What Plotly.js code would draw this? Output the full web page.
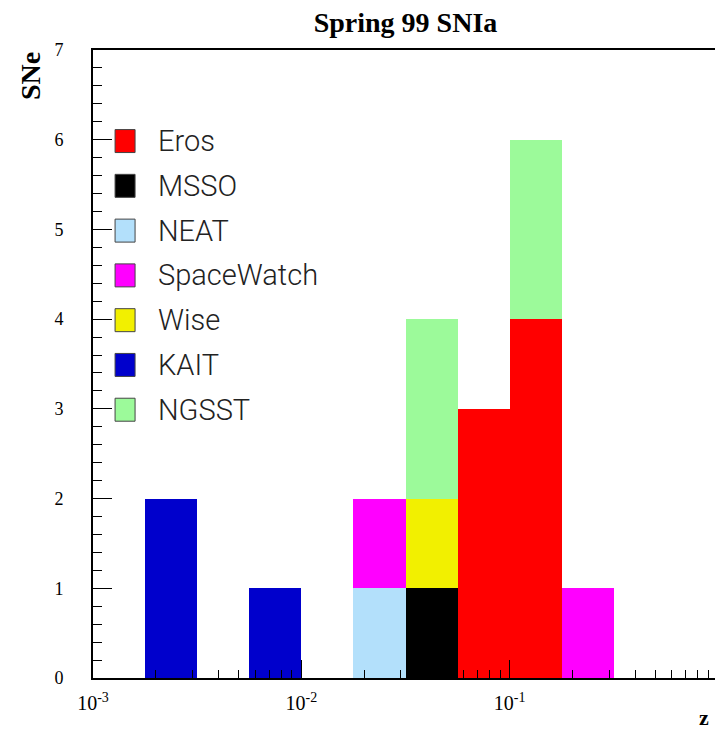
<!DOCTYPE html>
<html>
<head>
<meta charset="utf-8">
<script src="https://cdn.plot.ly/plotly-3.0.1.min.js"></script>
<style>
html,body{margin:0;padding:0;overflow:hidden;background:#fff;}
#chart{width:740px;height:731px;}
</style>
</head>
<body>
<div id="chart"></div>
<script>
// Bin lower edges, in log10(z); each bin is 0.25 decade wide
var binLowLog10 = [-2.75, -2.5, -2.25, -2.0, -1.75, -1.5, -1.25, -1.0, -0.75];
var binWidthLog10 = 0.25;

var seriesNames = ["Eros", "MSSO", "NEAT", "SpaceWatch", "Wise", "KAIT", "NGSST"];
var seriesColors = ["#ff0000", "#000000", "#b3e0fb", "#ff00ff", "#f2f000", "#0000cc", "#9cfa9a"];

var eros       = [0, 0, 0, 0, 0, 0, 3, 4, 0];
var msso       = [0, 0, 0, 0, 0, 1, 0, 0, 0];
var neat       = [0, 0, 0, 0, 1, 0, 0, 0, 0];
var spaceWatch = [0, 0, 0, 0, 1, 0, 0, 0, 1];
var wise       = [0, 0, 0, 0, 0, 1, 0, 0, 0];
var kait       = [2, 0, 1, 0, 0, 0, 0, 0, 0];
var ngsst      = [0, 0, 0, 0, 0, 2, 0, 2, 0];

var xTickVals = [-3, -2, -1];
var xTickText = ["10<sup>-3</sup>", "10<sup>-2</sup>", "10<sup>-1</sup>"];

var seriesValues = [eros, msso, neat, spaceWatch, wise, kait, ngsst];
var centers = binLowLog10.map(function(v){ return v + binWidthLog10/2; });

var traces = seriesValues.map(function(vals, i){
  return {
    type: "bar",
    x: centers,
    y: vals,
    width: binWidthLog10,
    name: seriesNames[i],
    marker: {color: seriesColors[i], line: {width: 0}},
    hoverinfo: "name+y"
  };
});

// minor log ticks positions
var minorVals = [];
for (var d = -3; d < 0; d++) {
  for (var k = 2; k <= 9; k++) minorVals.push(d + Math.log10(k));
}

var serif = "Liberation Serif, Times New Roman, serif";
var shapes = [], annotations = [];
var legTop = 0.855, legStep = 0.0713;
seriesNames.forEach(function(n, i){
  var yc = legTop - i*legStep;
  shapes.push({type:"rect", xref:"paper", yref:"paper",
    x0:0.0353, x1:0.0673, y0:yc-0.0183, y1:yc+0.0183,
    fillcolor:seriesColors[i], line:{color:"#444444", width:1}});
  annotations.push({xref:"paper", yref:"paper", x:0.1, y:yc, xanchor:"left", yanchor:"middle",
    text:n, showarrow:false,
    font:{family:"Roboto, DejaVu Sans, sans-serif", weight:300, size:29, color:"#222"}});
});
annotations.push({xref:"paper", yref:"paper", x:1, y:0, xanchor:"right", yanchor:"top", yshift:-26, xshift:-8,
  text:"<b>z</b>", showarrow:false, borderpad:0, font:{family:serif, size:22, color:"#000"}});
annotations.push({xref:"paper", yref:"paper", x:0, y:1, xanchor:"center", yanchor:"top", xshift:-63,
  text:"<b>SNe</b>", textangle:-90, showarrow:false, font:{family:serif, size:28, color:"#000"}});

var layout = {
  width: 740, height: 731,
  margin: {l: 93, r: 22, t: 50, b: 53},
  paper_bgcolor: "#fff", plot_bgcolor: "#fff",
  barmode: "stack", bargap: 0, showlegend: false,
  title: {text: "<b>Spring 99 SNIa</b>", x: 0.5, xref: "paper", y: 0.97, yref: "container",
    yanchor: "middle", font: {family: serif, size: 28, color: "#000"}},
  xaxis: {
    range: [-3, 0], showgrid: false, zeroline: false,
    showline: true, linecolor: "#000", linewidth: 2, mirror: true,
    tickmode: "array", tickvals: xTickVals, ticktext: xTickText,
    ticks: "inside", ticklen: 18, tickwidth: 1, tickcolor: "#000",
    ticklabelstandoff: 6,
    minor: {tickmode: "array", tickvals: minorVals, ticks: "inside", ticklen: 8, tickwidth: 1, tickcolor: "#000", showgrid: false},
    tickfont: {family: serif, size: 20, color: "#000"}
  },
  yaxis: {
    range: [0, 7], showgrid: false, zeroline: false,
    showline: true, linecolor: "#000", linewidth: 2, mirror: true,
    tickmode: "linear", tick0: 0, dtick: 1,
    ticks: "inside", ticklen: 19, tickwidth: 1, tickcolor: "#000",
    ticklabelstandoff: 24,
    minor: {dtick: 0.2, ticks: "inside", ticklen: 9, tickwidth: 1, tickcolor: "#000", showgrid: false},
    tickfont: {family: serif, size: 18, color: "#000"}
  },
  shapes: shapes,
  annotations: annotations
};

Plotly.newPlot("chart", traces, layout, {displayModeBar: false, staticPlot: true});
</script>
</body>
</html>
